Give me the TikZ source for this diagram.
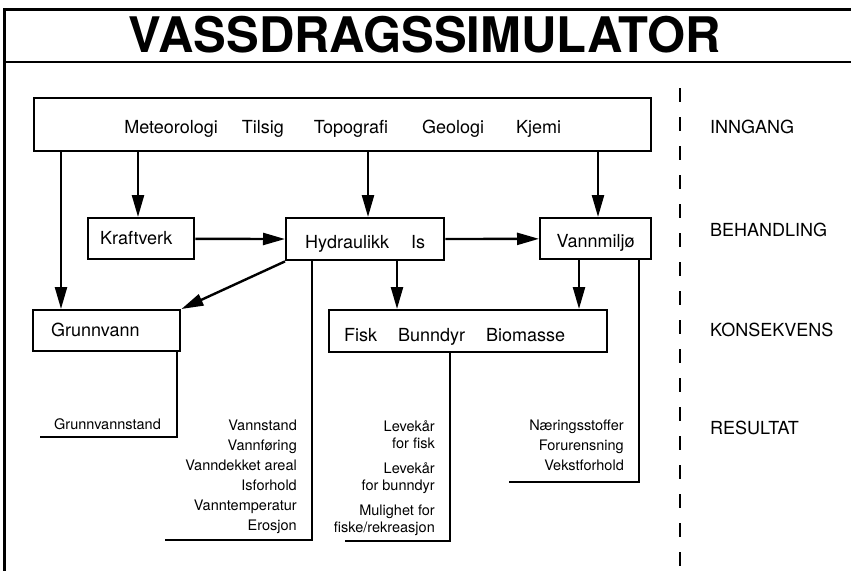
\documentclass[tikz,border=0pt]{standalone}
\usepackage{fontspec}
\setmainfont{TeX Gyre Heros}
\usetikzlibrary{arrows.meta}
\begin{document}
\begin{tikzpicture}[x=1pt,y=-1pt,line width=2.4pt,node font=\fontsize{18}{22}\selectfont,
        box/.style={draw,line width=2.4pt,anchor=north west,minimum height=41pt,inner ysep=0pt,text height=18pt,text depth=0pt},
        arr/.style={-{Triangle[length=22pt,width=12pt]}},
        small/.style={node font=\fontsize{14.5}{20}\selectfont,align=right,anchor=north east,inner sep=0pt}]
        \useasboundingbox (0,0) rectangle (851,571);
        \draw [line width=3pt] (851,9) -- (4,9) -- (4,571);
        \draw [line width=2.5pt] (4,62) -- (851,62);
        \draw [line width=2.5pt,dash pattern=on 14pt off 15pt] (680,88) -- (680,571);
        \node (title) [node font=\fontsize{49}{53}\selectfont\bfseries] at (425,35) {VASSDRAGSSIMULATOR};
        \node (input) [box,minimum width=617pt,minimum height=53pt,text height=17pt] at (33,97) {Meteorologi\hspace{24pt}Tilsig\hspace{30pt}Topografi\hspace{34pt}Geologi\hspace{32pt}Kjemi};
        \node (kraft) [box,inner xsep=12pt,text width=82pt,align=left,text height=11pt] at (87,217) {Kraftverk};
        \node (hydr) [box,minimum width=158pt,minimum height=42pt] at (285,217) {Hydraulikk\hspace{22pt}Is};
        \node (miljo) [box,minimum width=111pt] at (539,217) {Vannmiljø};
        \node (grunn) [box,inner xsep=18pt,text width=111pt,align=left,text height=11pt] at (32,309) {Grunnvann};
        \node (fisk) [box,inner xsep=15pt,text width=248pt,align=left,minimum height=42pt,text height=20pt] at (328,309) {Fisk\hspace{21pt}Bunndyr\hspace{21pt}Biomasse};
        \draw [arr] (61,0 |- input.south) -- (61,0 |- grunn.north);
        \draw [arr] (138,0 |- input.south) -- (138,0 |- kraft.north);
        \draw [arr] (368,0 |- input.south) -- (368,0 |- hydr.north);
        \draw [arr] (598,0 |- input.south) -- (598,0 |- miljo.north);
        \draw [arr] (kraft) -- (hydr);
        \draw [arr] (hydr) -- (miljo);
        \draw [arr] (hydr.south west) -- (grunn.north east);
        \draw [arr] (397,0 |- hydr.south) -- (397,0 |- fisk.north);
        \draw [arr] (579,0 |- miljo.south) -- (579,0 |- fisk.north);
        \coordinate (gend) at (40,437);
        \coordinate (hend) at (165,540);
        \coordinate (fend) at (345,541);
        \coordinate (mend) at (509,482);
        \draw (177,0 |- grunn.south) |- (gend);
        \draw (312,0 |- hydr.south) |- (hend);
        \draw (450,0 |- fisk.south) |- (fend);
        \draw (639,0 |- miljo.south) |- (mend);
        \node (gres) [small] at (162,417) {Grunnvannstand};
        \node (hres) [small] at (298,419) {Vannstand\\Vannføring\\Vanndekket areal\\Isforhold\\Vanntemperatur\\Erosjon};
        \node (fres) [small,node font=\fontsize{14.5}{17}\selectfont] at (436,419) {Levekår\\for fisk\\[8pt]Levekår\\for bunndyr\\[8pt]Mulighet for\\fiske/rekreasjon};
        \node (mres) [small] at (625,419) {Næringsstoffer\\Forurensning\\Vekstforhold};
        \foreach \y/\txt/\nm in {127/INNGANG/inngang,230/BEHANDLING/behandling,330/KONSEKVENS/konsekvens,428/RESULTAT/resultat}
            \node (\nm) [anchor=west,inner sep=0pt] at (709,\y) {\txt};
    \end{tikzpicture}
\end{document}
